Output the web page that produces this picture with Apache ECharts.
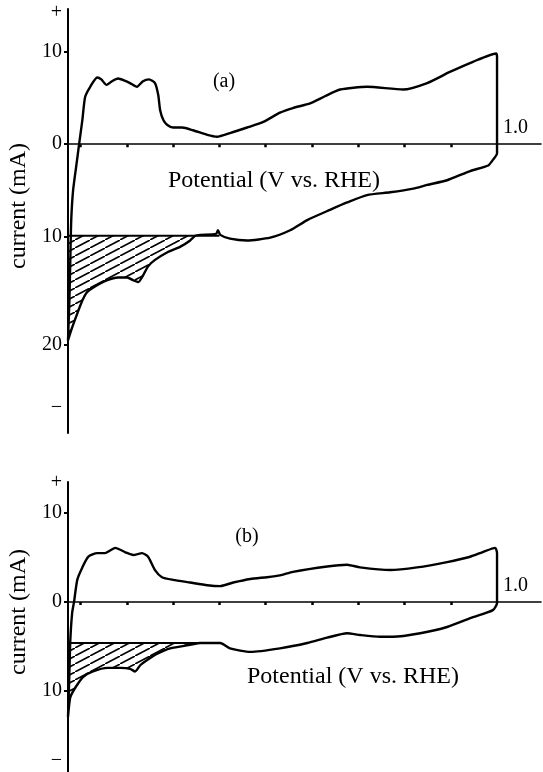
<!DOCTYPE html>
<html><head><meta charset="utf-8">
<script src="https://cdn.jsdelivr.net/npm/echarts@6/dist/echarts.min.js"></script>
<style>html,body{margin:0;padding:0;background:#fff}#c{width:543px;height:772px}</style>
</head><body><div id="c"></div>
<script>
// ---------- Panel (a) ----------
const aAnodicV = [0.073,0.076,0.078,0.080,0.084,0.091,0.097,0.104,0.110,0.121,0.136,0.145,0.156,0.168,0.181,0.194,0.207,0.222,0.235,0.248,0.261,0.268,0.272,0.279,0.287,0.300,0.320,0.343,0.374,0.395,0.423,0.460,0.495,0.531,0.559,0.596,0.629,0.661,0.719,0.797,0.849,0.898,0.948,0.998,1.000];
const aAnodicI = [-21.2,-16.9,-12.5,-8.2,-5.0,-2.3,0,2.6,5.1,6.2,7.2,7.0,6.4,6.8,7.1,6.9,6.6,6.2,6.8,7.0,6.6,5.3,3.7,2.6,2.1,1.8,1.8,1.5,1.0,0.8,1.2,1.8,2.4,3.4,3.9,4.4,5.2,5.9,6.2,5.9,6.6,7.8,8.9,9.8,9.4];
const aCathodicV = [1.000,1.000,0.991,0.981,0.942,0.892,0.849,0.819,0.769,0.719,0.676,0.639,0.590,0.553,0.510,0.460,0.423,0.402,0.397,0.393,0.359,0.348,0.337,0.315,0.287,0.261,0.246,0.235,0.225,0.214,0.201,0.181,0.158,0.127,0.114,0.104,0.093,0.082,0.073];
const aCathodicI = [0.1,-1.0,-1.7,-2.3,-2.9,-3.9,-4.4,-4.8,-5.2,-5.5,-6.3,-7.1,-8.2,-9.3,-10.1,-10.4,-10.2,-9.8,-9.3,-9.7,-9.8,-9.9,-10.4,-11.1,-11.7,-12.5,-13.2,-14.2,-14.9,-14.7,-14.4,-14.4,-14.7,-15.5,-16.0,-16.9,-18.3,-19.8,-21.2];
const aBaseline = -9.9;
const aBaselineEndV = 0.40;
const aHatchEndV = 0.36;
const aYLabelValues = [14.2, 10, 0, -10, -21.7, -28.5];
const aYLabelTexts  = ['+', '10', '0', '10', '20', '\u2212'];
const aYTickValues  = [10, 0, -10, -21.7];

// ---------- Panel (b) ----------
const bAnodicV = [0.073,0.076,0.078,0.082,0.086,0.093,0.104,0.117,0.136,0.153,0.164,0.175,0.197,0.214,0.233,0.246,0.261,0.276,0.300,0.337,0.374,0.402,0.430,0.467,0.503,0.531,0.559,0.633,0.676,0.704,0.769,0.827,0.892,0.942,0.968,0.996,1.000];
const bAnodicI = [-12.9,-8.0,-4.3,-1.2,0,2.5,3.9,5.1,5.5,5.5,5.8,6.1,5.6,5.3,5.5,5.1,3.6,2.8,2.5,2.2,1.9,1.8,2.2,2.6,2.8,3.0,3.4,4.0,4.2,3.9,3.6,3.9,4.5,5.1,5.6,6.1,5.5];
const bCathodicV = [1.000,0.991,0.948,0.892,0.834,0.775,0.747,0.704,0.676,0.633,0.590,0.531,0.467,0.423,0.402,0.359,0.337,0.294,0.266,0.244,0.229,0.218,0.207,0.186,0.158,0.127,0.106,0.089,0.078,0.073];
const bCathodicI = [-0.1,-0.9,-1.7,-2.8,-3.5,-3.9,-3.9,-3.7,-3.5,-4.0,-4.6,-5.2,-5.6,-5.2,-4.6,-4.6,-4.8,-5.2,-5.8,-6.5,-7.1,-7.8,-7.5,-7.4,-7.4,-7.8,-8.4,-9.6,-10.7,-12.9];
const bBaseline = -4.6;
const bBaselineEndV = 0.40;
const bHatchEndV = 0.36;
const bYLabelValues = [13.4, 10, 0, -10, -17.8];
const bYLabelTexts  = ['+', '10', '0', '10', '\u2212'];
const bYTickValues  = [10, 0, -10];

// ---------- shared axis text ----------
const xTickValues = [0.1,0.2,0.3,0.4,0.5,0.6,0.7,0.8,0.9];
const xEndLabelValue = 1.0;
const xName = 'Potential (V vs. RHE)';
const yName = 'current (mA)';
const panelLabels = ['(a)', '(b)'];

// ---------- helpers ----------
const zip = (xs, ys) => xs.map((x, i) => [x, ys[i]]);
const FONT = 'Liberation Serif';

function hatchPattern() {
  const W = 15, H = 8;
  const c = document.createElement('canvas');
  c.width = W; c.height = H;
  const g = c.getContext('2d');
  g.strokeStyle = '#000';
  g.lineWidth = 1.6;
  g.beginPath();
  g.moveTo(-W, 2 * H); g.lineTo(2 * W, -H);
  g.stroke();
  return { image: c, repeat: 'repeat' };
}
const pattern = hatchPattern();

function panelSeries(idx, anV, anI, caV, caI, base, baseEnd, hatchEnd) {
  const loop = zip(anV, anI).concat(zip(caV, caI));
  const hatch = zip(caV, caI).filter(p => p[0] <= hatchEnd).sort((p, q) => p[0] - q[0]);
  const xMin = Math.min(...anV);
  return [
    {
      type: 'line', xAxisIndex: idx, yAxisIndex: idx, data: hatch,
      symbol: 'none', smooth: 0.2, clip: false, z: 1,
      lineStyle: { width: 0, opacity: 0 },
      areaStyle: { origin: base, color: pattern, opacity: 1 }
    },
    {
      type: 'line', xAxisIndex: idx, yAxisIndex: idx,
      data: [[xMin, base], [baseEnd, base]],
      symbol: 'none', clip: false, z: 2,
      lineStyle: { color: '#000', width: 2 }
    },
    {
      type: 'line', xAxisIndex: idx, yAxisIndex: idx, data: loop,
      symbol: 'none', smooth: 0.2, clip: false, z: 3,
      lineStyle: { color: '#000', width: 2.4 }
    }
  ];
}

function xAxisCfg(idx) {
  return {
    type: 'value', gridIndex: idx, min: 0.073, max: 1.095,
    axisLine: { onZero: true, lineStyle: { color: '#000', width: 1.6 } },
    axisTick: { customValues: xTickValues, length: 3, lineStyle: { color: '#000', width: 2.5 } },
    axisLabel: { show: false },
    splitLine: { show: false }
  };
}

function yAxisCfg(idx, min, max, labVals, labTexts, tickVals) {
  return {
    type: 'value', gridIndex: idx, min: min, max: max,
    axisLine: { onZero: false, lineStyle: { color: '#000', width: 2 } },
    axisTick: { customValues: tickVals, length: 4, lineStyle: { color: '#000', width: 2 } },
    axisLabel: {
      customValues: labVals,
      formatter: v => labTexts[labVals.indexOf(v)],
      margin: 6, color: '#000', fontFamily: FONT, fontSize: 20
    },
    splitLine: { show: false },
    name: yName, nameLocation: 'middle', nameRotate: 90, nameGap: 34,
    nameTextStyle: { color: '#000', fontFamily: FONT, fontSize: 24, padding: [0, 0, 0, 30] }
  };
}

const chart = echarts.init(document.getElementById('c'), null, { renderer: 'canvas' });
chart.setOption({
  animation: false,
  backgroundColor: '#fff',
  grid: [
    { left: 68, top: 9, width: 473, height: 424, outerBoundsMode: 'none', containLabel: false },
    { left: 68, top: 482, width: 473, height: 290, outerBoundsMode: 'none', containLabel: false }
  ],
  xAxis: [xAxisCfg(0), xAxisCfg(1)],
  yAxis: [
    yAxisCfg(0, -31.2, 14.6, aYLabelValues, aYLabelTexts, aYTickValues),
    yAxisCfg(1, -19.1, 13.5, bYLabelValues, bYLabelTexts, bYTickValues)
  ],
  series: [].concat(
    panelSeries(0, aAnodicV, aAnodicI, aCathodicV, aCathodicI, aBaseline, aBaselineEndV, aHatchEndV),
    panelSeries(1, bAnodicV, bAnodicI, bCathodicV, bCathodicI, bBaseline, bBaselineEndV, bHatchEndV)
  )
});

// Text placed relative to the axes through the library's own coordinate conversion
const endA = chart.convertToPixel({ xAxisIndex: 0, yAxisIndex: 0 }, [xEndLabelValue, 0]);
const endB = chart.convertToPixel({ xAxisIndex: 1, yAxisIndex: 1 }, [xEndLabelValue, 0]);
const txt = (x, y, text, size, align) => ({
  type: 'text', x: x, y: y,
  style: { text: text, align: align || 'center', verticalAlign: 'middle', font: size + 'px "Liberation Serif"', fill: '#000' }
});
chart.setOption({
  graphic: [
    txt(endA[0] + 6, endA[1] - 16, xEndLabelValue.toFixed(1), 20, 'left'),
    txt(endB[0] + 6, endB[1] - 16, xEndLabelValue.toFixed(1), 20, 'left'),
    txt(274, endA[1] + 37, xName, 24),
    txt(353, endB[1] + 75, xName, 24),
    txt(224, 82, panelLabels[0], 20),
    txt(247, 537, panelLabels[1], 20)
  ]
});
</script>
</body></html>
